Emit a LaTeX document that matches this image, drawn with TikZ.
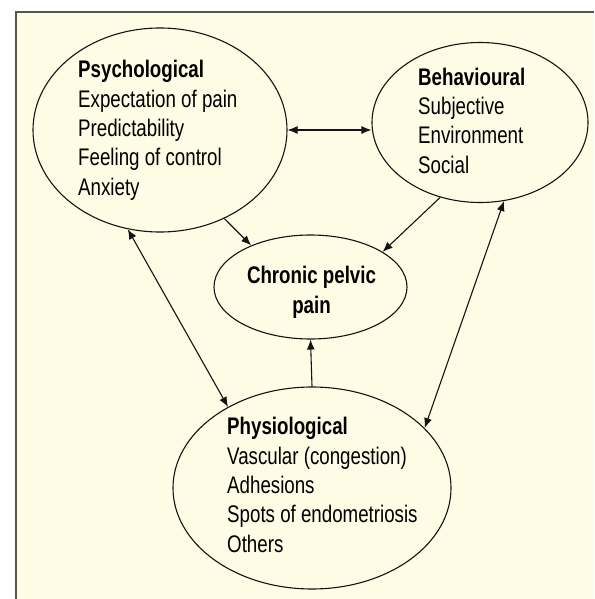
\documentclass[tikz,border=0pt]{standalone}
\usepackage{fontspec}
\setmainfont{Liberation Sans}[FakeStretch=0.78]
\usetikzlibrary{shapes.geometric,arrows.meta}
\definecolor{cream}{RGB}{254,252,228}
\definecolor{framegray}{RGB}{85,85,85}
\definecolor{inkc}{RGB}{20,20,20}
\begin{document}
\begin{tikzpicture}[x=1pt,y=-1pt,
  oval/.style={ellipse,draw=inkc,line width=1.1pt,inner sep=0pt},
  txt/.style={inner sep=0pt,align=left,anchor=base west,text=black,
    font=\fontsize{24}{29.3}\selectfont},
  arr/.style={draw=inkc,line width=1.1pt,-{Latex[length=10pt,width=8pt]}},
  darr/.style={draw=inkc,line width=1.1pt,{Latex[length=10pt,width=8pt]}-{Latex[length=10pt,width=8pt]}}]
\useasboundingbox (0,0) rectangle (594,599);
\fill[white] (0,0) rectangle (594,599);
\fill[cream] (16,12) rectangle (594,599);
\draw[framegray,line width=1.5pt] (16,599) -- (16,12) -- (594,12);

\node[oval,minimum width=254pt,minimum height=204pt] (psy) at (160,130) {};
\node[oval,minimum width=216pt,minimum height=160pt] (beh) at (480,122.5) {};
\node[oval,minimum width=193pt,minimum height=104pt] (chr) at (310.5,287) {};
\node[oval,minimum width=278pt,minimum height=202pt] (phy) at (312,488) {};

\node[txt] (psyt) at (78,195) {\textbf{Psychological}\\Expectation of pain\\Predictability\\Feeling of control\\Anxiety};
\node[txt] (beht) at (418,173) {\textbf{Behavioural}\\Subjective\\Environment\\Social};
\node[txt,align=center,anchor=base] (chrt) at (311.5,313) {\textbf{Chronic pelvic}\\\textbf{pain}};
\node[txt] (phyt) at (227,552) {\textbf{Physiological}\\Vascular (congestion)\\Adhesions\\Spots of endometriosis\\Others};

\draw[darr] (psy.east) -- (beh.west |- psy.east);
\draw[arr] (psy.-54.7) -- (chr.145.2);
\draw[arr] (beh.-118.2) -- (chr.26.1);
\draw[darr] (psy.-108.4) -- (phy.136);
\draw[darr] (beh.-73.7) -- (phy.28.4);
\draw[arr] (phy.north) -- (chr.south);
\end{tikzpicture}
\end{document}
